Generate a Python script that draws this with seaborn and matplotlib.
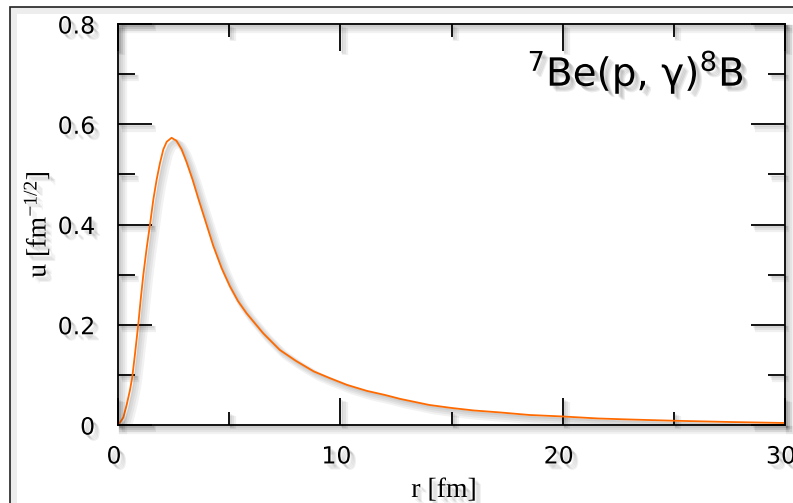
import matplotlib
matplotlib.use("Agg")
import matplotlib.pyplot as plt
import matplotlib.patheffects as pe
from matplotlib.patches import Rectangle
from matplotlib.transforms import ScaledTranslation
from matplotlib.ticker import MultipleLocator, FixedLocator, FixedFormatter
import seaborn as sns
import pandas as pd

# ---- data ----
r_fm = [0, 0.03, 0.24, 0.39, 0.54, 0.64, 0.76, 0.91, 1.02, 1.14, 1.29, 1.44,
        1.59, 1.74, 1.89, 2.04, 2.19, 2.41, 2.63, 2.86, 3.08, 3.35, 3.61,
        3.91, 4.28, 4.66, 5.03, 5.40, 5.78, 6.53, 7.27, 8.0, 8.8, 9.5, 10.3,
        11.2, 12.0, 12.7, 14.0, 15.0, 16.0, 17.2, 18.5, 20.0, 21.6, 23.0,
        25.0, 27.5, 30.0]
u_val = [0, 0.001, 0.015, 0.04, 0.07, 0.095, 0.14, 0.2, 0.25, 0.3, 0.353, 0.4,
         0.45, 0.49, 0.523, 0.55, 0.565, 0.573, 0.567, 0.55, 0.525, 0.49,
         0.452, 0.41, 0.358, 0.313, 0.277, 0.247, 0.223, 0.183, 0.15, 0.128,
         0.107, 0.094, 0.08, 0.068, 0.06, 0.052, 0.04, 0.034, 0.029, 0.025,
         0.02, 0.017, 0.013, 0.011, 0.0085, 0.006, 0.004]
x_ticks = [0, 10, 20, 30]
x_tick_labels = ["0", "10", "20", "30"]
y_ticks = [0, 0.2, 0.4, 0.6, 0.8]
y_tick_labels = ["0", "0.2", "0.4", "0.6", "0.8"]
title_text = r"$\mathregular{^7}$Be(p, γ)$\mathregular{^8}$B"
x_label = "r [fm]"
y_label = r"u [fm$^{-1/2}$]"

sns.set_theme(style="white")
plt.rcParams["font.family"] = ["DejaVu Sans"]
plt.rcParams["mathtext.fontset"] = "custom"
plt.rcParams["mathtext.rm"] = "Liberation Serif"
plt.rcParams["mathtext.it"] = "Liberation Serif:italic"

W, H = 793, 503
fig = plt.figure(figsize=(W / 100, H / 100), dpi=100)
fig.patch.set_facecolor("white")
ax = fig.add_axes([118 / W, 1 - 425 / H, (785 - 118) / W, (425 - 24) / H])
ax.set_facecolor("white")


def shadow_line(n=4, alpha=0.07):
    effs = []
    for i in range(n):
        effs.append(pe.SimpleLineShadow(offset=(1.5 + i * 0.8, -1.5 - i * 0.8),
                                        shadow_color="black", alpha=alpha,
                                        linewidth=1.5 + i * 1.5))
    effs.append(pe.Normal())
    return effs


def shadow_text(n=4, alpha=0.08):
    effs = []
    for i in range(n):
        effs.append(pe.SimplePatchShadow(offset=(2 + i * 0.8, -2 - i * 0.8),
                                         shadow_rgbFace="black", alpha=alpha))
    effs.append(pe.Normal())
    return effs


df = pd.DataFrame({"r": r_fm, "u": u_val})
sns.lineplot(data=df, x="r", y="u", ax=ax, color="#ff6a00", linewidth=1.3,
             sort=False)
ax.lines[0].set_path_effects(shadow_line(4, 0.05))
ax.lines[0].set_solid_joinstyle("round")

ax.set_xlim(0, 30)
ax.set_ylim(0, 0.8)
ax.xaxis.set_major_locator(FixedLocator(x_ticks))
ax.xaxis.set_major_formatter(FixedFormatter(x_tick_labels))
ax.yaxis.set_major_locator(FixedLocator(y_ticks))
ax.yaxis.set_major_formatter(FixedFormatter(y_tick_labels))
ax.xaxis.set_minor_locator(MultipleLocator(5))
ax.yaxis.set_minor_locator(MultipleLocator(0.1))

ax.tick_params(axis="both", which="both", direction="in", top=True, right=True,
               bottom=True, left=True, color="black", width=1.3)
ax.tick_params(axis="x", which="major", length=19.5, pad=14, labelsize=17,
               labelcolor="black")
ax.tick_params(axis="x", which="minor", length=9.5)
ax.tick_params(axis="y", which="major", length=24.5, pad=16.5, labelsize=17,
               labelcolor="black")
ax.tick_params(axis="y", which="minor", length=12.2)

for s in ax.spines.values():
    s.set_visible(True)
    s.set_color("black")
    s.set_linewidth(1.3)
    s.set_path_effects(shadow_line(4, 0.05))

for tk in ax.xaxis.get_major_ticks() + ax.xaxis.get_minor_ticks() + \
        ax.yaxis.get_major_ticks() + ax.yaxis.get_minor_ticks():
    tk.tick1line.set_path_effects(shadow_line(3, 0.06))
    tk.tick2line.set_path_effects(shadow_line(3, 0.06))

shift = ScaledTranslation(-4 / 100, 0, fig.dpi_scale_trans)
for lab in ax.get_xticklabels():
    lab.set_transform(lab.get_transform() + shift)
    lab.set_path_effects(shadow_text(4, 0.06))
for lab in ax.get_yticklabels():
    lab.set_path_effects(shadow_text(4, 0.06))

ax.set_xlabel(x_label, family="Liberation Serif", fontsize=20, color="black")
ax.xaxis.set_label_coords((444 - 118) / (785 - 118), (425 - 478) / (425 - 24))
ax.xaxis.label.set_path_effects(shadow_text(4, 0.06))
ax.set_ylabel(y_label, family="Liberation Serif", fontsize=20, color="black")
ax.yaxis.set_label_coords((52 - 118) / (785 - 118), 0.5)
ax.yaxis.label.set_path_effects(shadow_text(4, 0.06))

t = fig.text(744 / W, 1 - 86 / H, title_text, ha="right", va="baseline",
             fontsize=28, family="DejaVu Sans", color="black")
t.set_path_effects(shadow_text(4, 0.07))

border = Rectangle((10 / W, -0.1), 1.2, (H - 7) / H + 0.1,
                   transform=fig.transFigure, fill=False, lw=1.2,
                   edgecolor="#222222", zorder=0)
border.set_path_effects([pe.SimpleLineShadow(offset=(2, -2), alpha=0.08,
                                             linewidth=5), pe.Normal()])
fig.add_artist(border)

fig.savefig("out.png", dpi=100, facecolor="white")
